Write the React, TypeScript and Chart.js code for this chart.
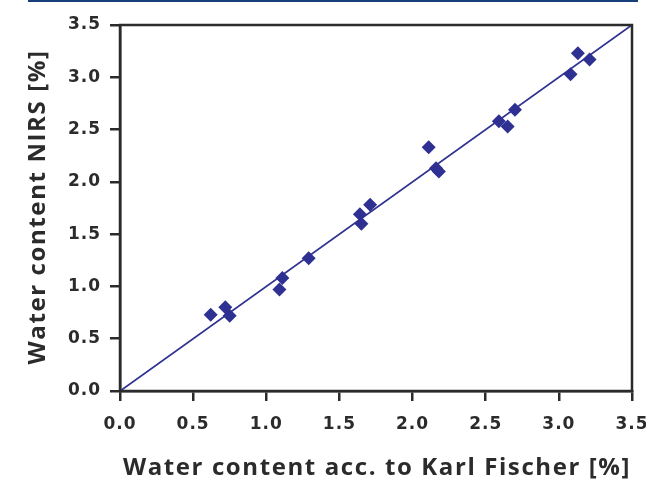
import React, { useEffect, useRef } from "react";
import { Chart, registerables } from "chart.js";

Chart.register(...registerables);

const karlFischer = [0.62, 0.72, 0.75, 1.09, 1.11, 1.29, 1.64, 1.65, 1.71, 2.11, 2.16, 2.18, 2.59, 2.65, 2.70, 3.08, 3.13, 3.21];
const nirs = [0.73, 0.80, 0.72, 0.97, 1.08, 1.27, 1.69, 1.60, 1.78, 2.33, 2.13, 2.10, 2.58, 2.53, 2.69, 3.03, 3.23, 3.17];
const fitLine = [0, 3.5];
const axisMin = 0;
const axisMax = 3.5;
const tickStep = 0.5;
const xTitle = "Water content acc. to Karl Fischer [%]";
const yTitle = "Water content NIRS [%]";

const markColor = "#2E3192";
const inkColor = "#2b2b2b";
const titleFont = "bold 24px 'Open Sans', sans-serif";

const framePlugin = {
  id: "frame",
  beforeDraw(chart: any) {
    const ctx = chart.ctx;
    ctx.save();
    ctx.fillStyle = "#17407A";
    ctx.fillRect(28, 0, 610, 2);
    ctx.restore();
    (ctx as any).letterSpacing = "1px";
  },
  afterDatasetsDraw(chart: any) {
    const { ctx, chartArea } = chart;
    ctx.save();
    ctx.strokeStyle = inkColor;
    ctx.lineWidth = 2.5;
    ctx.strokeRect(chartArea.left, chartArea.top, chartArea.right - chartArea.left, chartArea.bottom - chartArea.top);
    ctx.restore();
  },
  afterDraw(chart: any) {
    const { ctx, chartArea } = chart;
    ctx.save();
    (ctx as any).letterSpacing = "1.6px";
    ctx.font = titleFont;
    ctx.fillStyle = inkColor;
    ctx.textAlign = "center";
    ctx.textBaseline = "alphabetic";
    const cx = (chartArea.left + chartArea.right) / 2;
    ctx.fillText(xTitle, cx + 1, 475);
    const cy = (chartArea.top + chartArea.bottom) / 2;
    ctx.translate(45, cy);
    ctx.rotate(-Math.PI / 2);
    ctx.fillText(yTitle, 1, 0);
    ctx.restore();
  },
};

export default function App() {
  const ref = useRef<HTMLCanvasElement>(null);
  useEffect(() => {
    document.body.style.margin = "0";
    const points = karlFischer.map((x, i) => ({ x, y: nirs[i] }));
    const line = fitLine.map((v) => ({ x: v, y: v }));
    const tickFont = { family: "'DejaVu Sans', sans-serif", weight: "bold" as const, size: 17 };
    const chart = new Chart(ref.current!, {
      type: "scatter",
      data: {
        datasets: [
          {
            type: "line",
            data: line,
            borderColor: markColor,
            borderWidth: 1.8,
            pointRadius: 0,
            fill: false,
          } as any,
          {
            data: points,
            pointStyle: "rectRot",
            pointRadius: 7,
            backgroundColor: markColor,
            borderColor: markColor,
            borderWidth: 0,
          },
        ],
      },
      plugins: [framePlugin],
      options: {
        animation: false,
        responsive: false,
        layout: { padding: { top: 25, right: 14, left: 0, bottom: 0 } },
        plugins: { legend: { display: false }, tooltip: { enabled: false } },
        scales: {
          x: {
            type: "linear",
            min: axisMin,
            max: axisMax,
            ticks: {
              stepSize: tickStep,
              color: inkColor,
              font: tickFont,
              padding: 13,
              callback: (v: any) => Number(v).toFixed(1),
            },
            grid: { drawOnChartArea: false, drawTicks: true, tickLength: 10, color: inkColor, lineWidth: 2.5 },
            border: { display: true, color: inkColor, width: 2.5 },
            afterFit: (s: any) => {
              s.height = 88;
              s.paddingLeft = 0;
              s.paddingRight = 0;
            },
          },
          y: {
            type: "linear",
            min: axisMin,
            max: axisMax,
            ticks: {
              stepSize: tickStep,
              color: inkColor,
              font: tickFont,
              padding: 9,
              callback: (v: any) => Number(v).toFixed(1),
            },
            grid: { drawOnChartArea: false, drawTicks: true, tickLength: 10, color: inkColor, lineWidth: 2.5 },
            border: { display: true, color: inkColor, width: 2.5 },
            afterFit: (s: any) => {
              s.width = 120;
              s.paddingTop = 0;
              s.paddingBottom = 0;
            },
          },
        },
      },
    });
    return () => chart.destroy();
  }, []);
  return <canvas ref={ref} width={646} height={479} style={{ display: "block" }} />;
}
